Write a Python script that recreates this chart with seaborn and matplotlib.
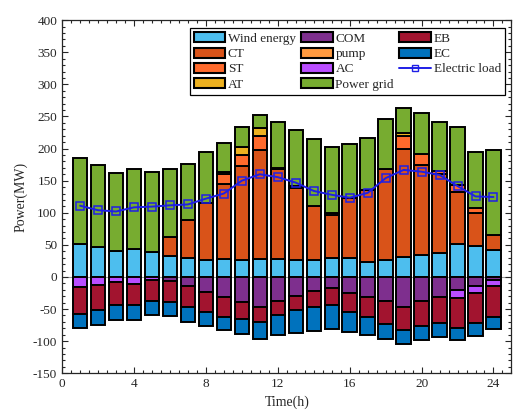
import numpy as np
import pandas as pd
import matplotlib
matplotlib.use("Agg")
import matplotlib.pyplot as plt
import seaborn as sns
from matplotlib.patches import Patch
from matplotlib.lines import Line2D
from matplotlib.ticker import MultipleLocator

hours = list(range(1, 25))
wind = [51, 46, 41, 44, 39, 33, 29, 27, 28, 26, 28, 28, 26, 26, 30, 29, 23, 26, 31, 34, 37, 51, 48, 42]
ct = [0, 0, 0, 0, 0, 29, 59, 89, 117, 147, 170, 140, 112, 85, 67, 94, 113, 142, 169, 141, 124, 81, 52, 24]
st = [0, 0, 0, 0, 0, 0, 0, 0, 15, 17, 21, 2, 3, 0, 2, 0, 0, 0, 20, 17, 4, 11, 7, 0]
at = [0, 0, 0, 0, 0, 0, 0, 0, 3, 13, 13, 0, 0, 0, 0, 0, 0, 0, 5, 0, 0, 0, 0, 0]
pump = [0] * 24
grid = [134, 128, 121, 124, 125, 106, 88, 79, 46, 30, 20, 71, 88, 104, 104, 84, 81, 78, 38, 64, 77, 91, 88, 132]
com = [0, 0, 0, 0, 0, -7, -14.5, -23, -31.5, -39, -46, -38, -30, -22, -17, -25, -31, -38, -46, -38, -30.5, -21, -13.6, -5]
ac = [-16, -13, -8, -10.5, -4.8, 0, 0, 0, 0, 0, 0, 0, 0, 0, 0, 0, 0, 0, 0, 0, 0, -11.6, -11.4, -8.6]
eb = [-42.4, -39, -36, -33.5, -33.2, -31.8, -32.5, -32, -30.5, -27, -24, -22, -21.7, -24, -26.4, -29.7,
      -31.5, -36, -36.6, -39, -41.8, -46.4, -47.3, -48.9]
ec = [-21.6, -22.8, -22.6, -22.6, -22, -22.7, -22.7, -21.7, -21, -22.8, -26, -31, -35.3, -38, -37.6, -30.3,
      -27.5, -22.2, -21.1, -21.2, -20.7, -19.6, -19.5, -18]
load = [111, 104, 102, 108.5, 109.6, 111.6, 113, 122, 130, 150, 160, 155.5, 147, 134, 128, 123.5, 131, 154,
        166.8, 164, 159, 141.6, 125.5, 124.6]

colors = {
    "Wind energy": "#4DBEEE", "CT": "#D95319", "ST": "#FF6A2C", "AT": "#EDB120",
    "COM": "#7E2F8E", "pump": "#FF9A40", "AC": "#B94DFF", "Power grid": "#77AC30",
    "EB": "#A2142F", "EC": "#0072BD",
}

sns.set_style("ticks")
plt.rcParams["font.family"] = ["Liberation Serif", "DejaVu Serif"]
plt.rcParams["axes.unicode_minus"] = False
plt.rcParams["xtick.direction"] = "in"
plt.rcParams["ytick.direction"] = "in"

fig = plt.figure(figsize=(5.13, 4.12), dpi=100)
ax = fig.add_axes([0.121, 0.094, 0.876, 0.857])

ax.axhline(0, color="#999999", lw=0.8, zorder=0)

pos_layers = [("Wind energy", wind), ("CT", ct), ("ST", st), ("AT", at), ("pump", pump), ("Power grid", grid)]
neg_layers = [("COM", com), ("AC", ac), ("EB", eb), ("EC", ec)]

for layers in (pos_layers, neg_layers):
    base = np.zeros(len(hours))
    for name, vals in layers:
        vals = np.asarray(vals, dtype=float)
        df = pd.DataFrame({"hour": hours, "value": vals})
        sns.barplot(data=df, x="hour", y="value", native_scale=True, bottom=base,
                    color=colors[name], saturation=1, width=0.8, edgecolor="black",
                    linewidth=1.4, errorbar=None, ax=ax, zorder=2)
        base = base + vals

ldf = pd.DataFrame({"hour": hours, "load": load})
sns.lineplot(data=ldf, x="hour", y="load", ax=ax, color="#1f1fe6", lw=1.4, marker="s",
             markersize=5.5, markerfacecolor="none", markeredgecolor="#1f1fe6",
             markeredgewidth=1.1, zorder=5)

ax.set_xlim(0, 25)
ax.set_ylim(-150, 400)
ax.set_xticks([0, 4, 8, 12, 16, 20, 24])
ax.set_xticklabels(["0", "4", "8", "12", "16", "20", "24"])
ax.set_yticks(range(-150, 401, 50))
ax.xaxis.set_minor_locator(MultipleLocator(0.5))
ax.yaxis.set_minor_locator(MultipleLocator(10))
ax.tick_params(which="both", top=True, right=True, direction="in", labelsize=9.5, width=0.8)
ax.tick_params(which="major", length=4)
ax.tick_params(which="minor", length=2)
for s in ax.spines.values():
    s.set_linewidth(0.9)
ax.set_xlabel("Time(h)", fontsize=10, labelpad=4)
ax.set_ylabel("Power(MW)", fontsize=10, labelpad=4)

order = ["Wind energy", "CT", "ST", "AT", "COM", "pump", "AC", "Power grid", "EB", "EC"]
handles = [Patch(facecolor=colors[n], edgecolor="black", linewidth=1.5, label=n) for n in order]
handles.append(Line2D([0], [0], color="#1f1fe6", lw=1.4, marker="s", markersize=5,
                      markerfacecolor="none", markeredgecolor="#1f1fe6", label="Electric load"))
leg = ax.legend(handles=handles, ncol=3, loc="upper right", bbox_to_anchor=(0.985, 0.977),
                borderaxespad=0, fontsize=9.5, frameon=True, fancybox=False, edgecolor="black",
                framealpha=1, handlelength=2.4, handleheight=0.8, handletextpad=0.2,
                columnspacing=0.4, labelspacing=0.2, borderpad=0.3)
leg.get_frame().set_linewidth(0.9)

fig.savefig("out.png", dpi=100)
